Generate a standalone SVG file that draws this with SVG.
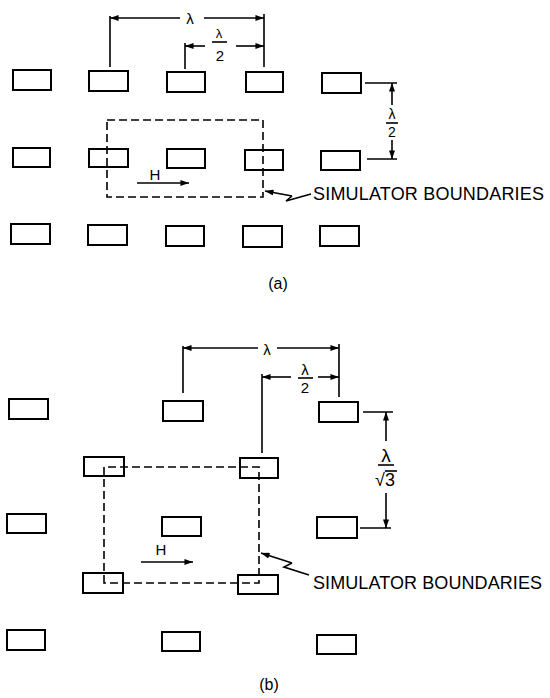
<svg xmlns="http://www.w3.org/2000/svg" width="550" height="698" viewBox="0 0 550 698">
<style>
.el{fill:none;stroke:#000;stroke-width:2}
.dim{fill:none;stroke:#000;stroke-width:1.6}
.dash{fill:none;stroke:#000;stroke-width:1.6;stroke-dasharray:8 4}
.t{font-family:"Liberation Sans",Arial,sans-serif;fill:#000}
</style>
<defs>
<marker id="arr" viewBox="0 0 10 7" refX="10" refY="3.5" markerWidth="9" markerHeight="6" markerUnits="userSpaceOnUse" orient="auto-start-reverse">
<path d="M0,0 L10,3.5 L0,7 z" fill="#000"/>
</marker>
</defs>
<rect width="550" height="698" fill="#fff"/>

<!-- (a) elements -->
<g id="a-r1c1"><rect class="el" x="13" y="70" width="38" height="20"/></g>
<g id="a-r1c2"><rect class="el" x="89" y="71" width="39" height="20"/></g>
<g id="a-r1c3"><rect class="el" x="167" y="72" width="38" height="20"/></g>
<g id="a-r1c4"><rect class="el" x="246" y="72" width="37" height="20"/></g>
<g id="a-r1c5"><rect class="el" x="322" y="73" width="39" height="20"/></g>
<g id="a-r2c1"><rect class="el" x="13" y="148" width="37" height="19"/></g>
<g id="a-r2c2"><rect class="el" x="89" y="149" width="39" height="18"/></g>
<g id="a-r2c3"><rect class="el" x="167" y="149" width="38" height="19"/></g>
<g id="a-r2c4"><rect class="el" x="245" y="150" width="38" height="20"/></g>
<g id="a-r2c5"><rect class="el" x="321" y="151" width="39" height="19"/></g>
<g id="a-r3c1"><rect class="el" x="11" y="224" width="39" height="20"/></g>
<g id="a-r3c2"><rect class="el" x="88" y="225" width="39" height="20"/></g>
<g id="a-r3c3"><rect class="el" x="166" y="226" width="38" height="20"/></g>
<g id="a-r3c4"><rect class="el" x="243" y="226" width="39" height="21"/></g>
<g id="a-r3c5"><rect class="el" x="320" y="226" width="39" height="20"/></g>

<!-- (b) elements -->
<g id="b-rAc1"><rect class="el" x="9" y="399" width="39" height="20"/></g>
<g id="b-rAc3"><rect class="el" x="163" y="401" width="40" height="20"/></g>
<g id="b-rAc5"><rect class="el" x="319" y="402" width="39" height="20"/></g>
<g id="b-rBc2"><rect class="el" x="84" y="457" width="40" height="19"/></g>
<g id="b-rBc4"><rect class="el" x="240" y="458" width="38" height="20"/></g>
<g id="b-rCc1"><rect class="el" x="7" y="514" width="39" height="19"/></g>
<g id="b-rCc3"><rect class="el" x="162" y="517" width="39" height="19"/></g>
<g id="b-rCc5"><rect class="el" x="317" y="517" width="40" height="21"/></g>
<g id="b-rDc2"><rect class="el" x="83" y="573" width="40" height="20"/></g>
<g id="b-rDc4"><rect class="el" x="238" y="575" width="40" height="19"/></g>
<g id="b-rEc1"><rect class="el" x="7" y="630" width="38" height="20"/></g>
<g id="b-rEc3"><rect class="el" x="162" y="632" width="38" height="19"/></g>
<g id="b-rEc5"><rect class="el" x="317" y="635" width="39" height="19"/></g>

<g id="connectors">
<!-- (a) lambda dimension -->
<path class="dim" d="M110,67 V16 M264,67 V14"/>
<path class="dim" d="M180,18 H110" marker-end="url(#arr)"/>
<path class="dim" d="M204,18 H264" marker-end="url(#arr)"/>
<!-- (a) lambda/2 dimension -->
<path class="dim" d="M185,69 V43"/>
<path class="dim" d="M205,46 H185" marker-end="url(#arr)"/>
<path class="dim" d="M236,46 H264" marker-end="url(#arr)"/>
<path class="dim" d="M212,42 H227"/>
<!-- (a) vertical lambda/2 -->
<path class="dim" d="M365,83 H397 M367,159 H397"/>
<path class="dim" d="M392,105 V83" marker-end="url(#arr)"/>
<path class="dim" d="M392,140 V159" marker-end="url(#arr)"/>
<path class="dim" d="M386,123 H398"/>
<!-- (a) simulator boundary -->
<rect class="dash" x="107" y="120" width="156" height="77"/>
<path class="dim" d="M292,196 L286,201 L311,194"/>
<path class="dim" d="M292,196 L265,191" marker-end="url(#arr)"/>
<!-- (a) H arrow -->
<path class="dim" d="M137,183 H189" marker-end="url(#arr)"/>

<!-- (b) lambda dimension -->
<path class="dim" d="M183,393 V346 M339,397 V344"/>
<path class="dim" d="M258,348 H183" marker-end="url(#arr)"/>
<path class="dim" d="M277,348 H339" marker-end="url(#arr)"/>
<!-- (b) lambda/2 dimension -->
<path class="dim" d="M262,453 V374"/>
<path class="dim" d="M291,377 H262" marker-end="url(#arr)"/>
<path class="dim" d="M318,377 H339" marker-end="url(#arr)"/>
<path class="dim" d="M298,378 H313"/>
<!-- (b) vertical lambda/sqrt3 -->
<path class="dim" d="M363,412 H393 M360,528 H391"/>
<path class="dim" d="M386,441 V412" marker-end="url(#arr)"/>
<path class="dim" d="M386,493 V528" marker-end="url(#arr)"/>
<path class="dim" d="M378,465 H394"/>
<path class="dim" d="M385,471 H397"/>
<!-- (b) simulator boundary -->
<path class="dash" d="M104,583 V467 H259 V583 Z"/>
<path class="dim" d="M292,563 L284,567 L309,575"/>
<path class="dim" d="M292,563 L261,553" marker-end="url(#arr)"/>
<!-- (b) H arrow -->
<path class="dim" d="M141,562 H193" marker-end="url(#arr)"/>
</g>

<g id="labels">
<text class="t" x="190" y="24" font-size="15" text-anchor="middle">λ</text>
<text class="t" x="219" y="38" font-size="13" text-anchor="middle">λ</text>
<text class="t" x="220" y="61" font-size="15" text-anchor="middle">2</text>
<text class="t" x="392" y="119" font-size="14" text-anchor="middle">λ</text>
<text class="t" x="392" y="137" font-size="14" text-anchor="middle">2</text>
<text class="t" x="155" y="180" font-size="15" text-anchor="middle">H</text>
<text class="t" x="313" y="200" font-size="18" textLength="231" lengthAdjust="spacing">SIMULATOR BOUNDARIES</text>
<text class="t" x="278" y="289" font-size="16" text-anchor="middle">(a)</text>

<text class="t" x="267" y="355" font-size="15" text-anchor="middle">λ</text>
<text class="t" x="305" y="375" font-size="15" text-anchor="middle">λ</text>
<text class="t" x="305" y="393" font-size="15" text-anchor="middle">2</text>
<text class="t" x="386" y="462" font-size="19" text-anchor="middle">λ</text>
<text class="t" x="385" y="486" font-size="18" text-anchor="middle">√3</text>
<text class="t" x="161" y="555" font-size="15" text-anchor="middle">H</text>
<text class="t" x="313" y="589" font-size="18" textLength="229" lengthAdjust="spacing">SIMULATOR BOUNDARIES</text>
<text class="t" x="269" y="690" font-size="16" text-anchor="middle">(b)</text>
</g>
</svg>
